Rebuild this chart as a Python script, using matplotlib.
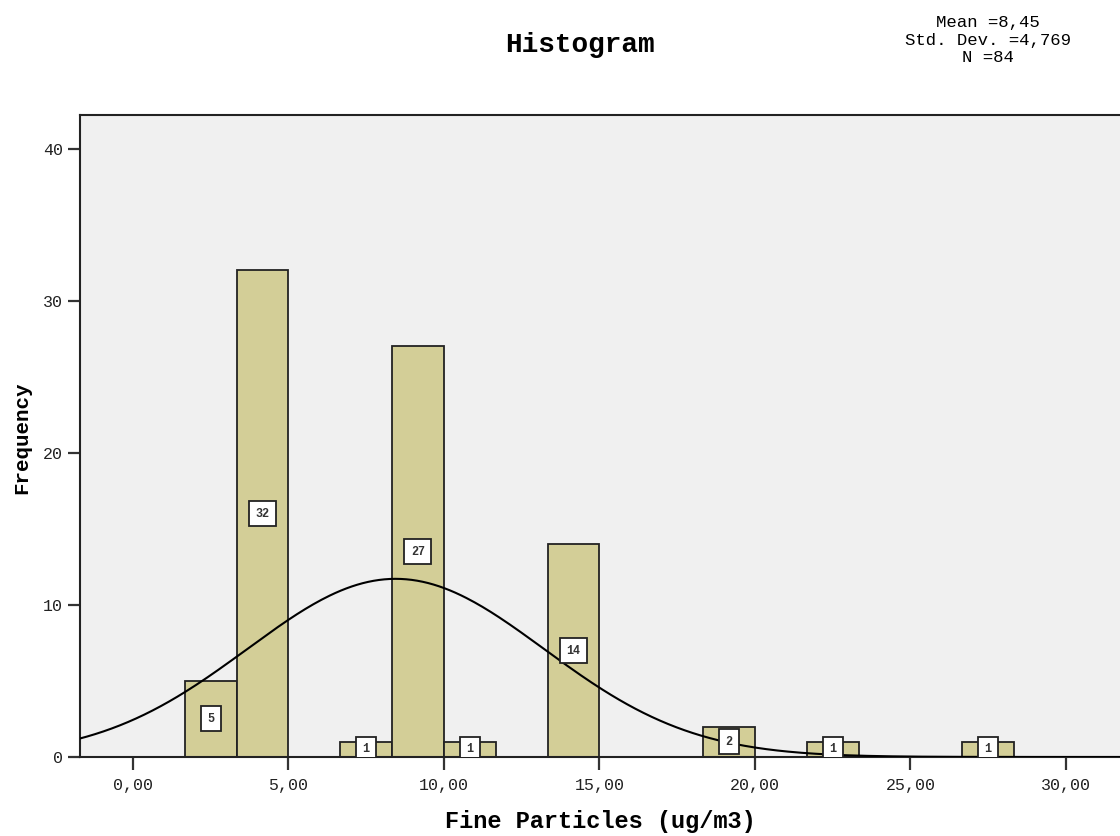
import numpy as np
import matplotlib.pyplot as plt

# histogram bins of width 5/3, counts per bin
bin_width = 5 / 3
bin_left = [1 * bin_width, 2 * bin_width, 4 * bin_width, 5 * bin_width,
            6 * bin_width, 8 * bin_width, 11 * bin_width, 13 * bin_width,
            16 * bin_width]
counts = [5, 32, 1, 27, 1, 14, 2, 1, 1]

mean = 8.45
std = 4.769
n = 84

x_ticks = [0, 5, 10, 15, 20, 25, 30]
x_tick_labels = ["0,00", "5,00", "10,00", "15,00", "20,00", "25,00", "30,00"]
y_ticks = [0, 10, 20, 30, 40]

mono = "Liberation Mono"
bar_color = "#D3CE97"

fig = plt.figure(figsize=(11.2, 8.36), dpi=100)
ax = fig.add_axes([0.0714, 0.0945, 0.94, 0.7679])
ax.set_facecolor("#F0F0F0")

ax.bar(bin_left, counts, width=bin_width, align="edge", color=bar_color,
       edgecolor="#222222", linewidth=1.3, zorder=2)

# count labels in the middle of each bar
for left, c in zip(bin_left, counts):
    ax.text(left + bin_width / 2, c / 2, str(c), ha="center", va="center",
            fontsize=8.5, fontweight="bold", family=mono, color="#333333",
            zorder=4, clip_on=True,
            bbox=dict(boxstyle="square,pad=0.55", facecolor="white",
                      edgecolor="#222222", linewidth=1.3))

# fitted normal curve scaled to counts
xs = np.linspace(-2, 33, 400)
ys = n * bin_width / (std * np.sqrt(2 * np.pi)) * np.exp(-0.5 * ((xs - mean) / std) ** 2)
ax.plot(xs, ys, color="black", linewidth=1.5, zorder=3)

ax.set_xlim(-1.7, 32.15)
ax.set_ylim(0, 42.2)
ax.set_xticks(x_ticks)
ax.set_xticklabels(x_tick_labels)
ax.set_yticks(y_ticks)

for s in ax.spines.values():
    s.set_color("#222222")
    s.set_linewidth(1.5)

ax.tick_params(axis="both", direction="out", length=9, width=1.6,
               color="#333333", labelcolor="#222222", labelsize=12)
ax.tick_params(axis="x", pad=6)
ax.tick_params(axis="y", pad=3)
for lbl in ax.get_xticklabels() + ax.get_yticklabels():
    lbl.set_family(mono)

ax.set_xlabel("Fine Particles (ug/m3)", family=mono, fontweight="bold",
              fontsize=17, va="center")
ax.xaxis.set_label_coords(0.494, -0.1)
ax.set_ylabel("Frequency", family=mono, fontweight="bold", fontsize=15,
              va="center")
ax.yaxis.set_label_coords(-0.055, 0.498)

fig.text(0.518, 0.946, "Histogram", family=mono, fontweight="bold",
         fontsize=20, ha="center", va="center")
fig.text(0.882, 0.952, "Mean =8,45\nStd. Dev. =4,769\nN =84", family=mono,
         fontsize=12.5, ha="center", va="center", linespacing=1.2)

fig.savefig("out.png", dpi=100)
